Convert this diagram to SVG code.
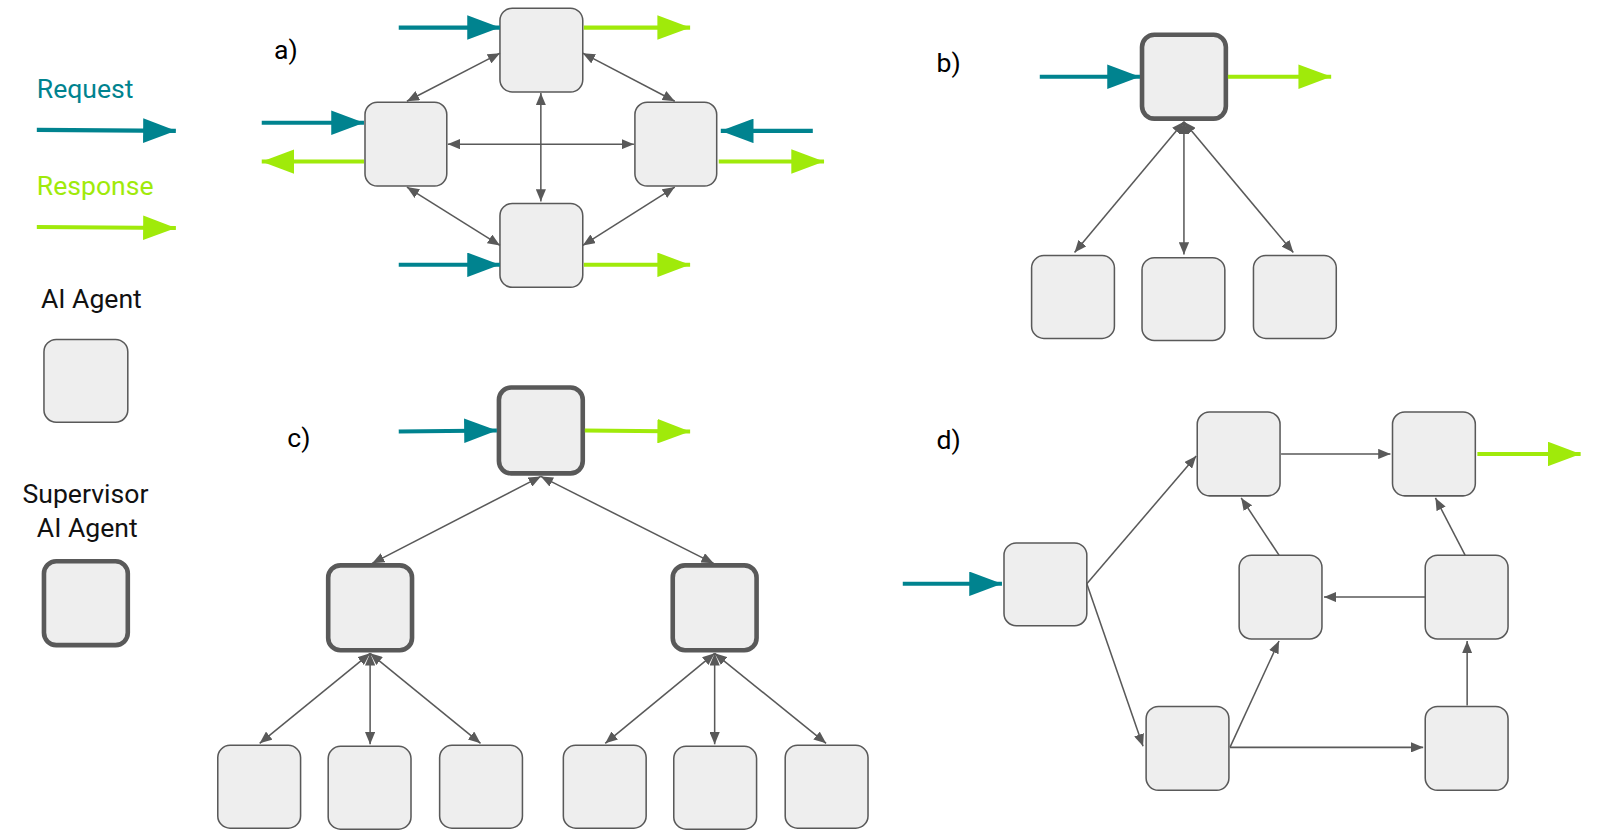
<svg xmlns="http://www.w3.org/2000/svg" width="1600" height="836" viewBox="0 0 1600 836">
<style>
.n{fill:#eeeeee;stroke:#595959;stroke-width:1.5}
.s{fill:#eeeeee;stroke:#595959;stroke-width:4.5}
.g{stroke:#595959;stroke-width:1.5;fill:none}
.b{marker-start:url(#ga);marker-end:url(#ga)}
.e{marker-end:url(#ga)}
.rq{stroke:#00838f;stroke-width:4;marker-end:url(#ta)}
.rs{stroke:#a0ea0a;stroke-width:4;marker-end:url(#la)}
text{font-family:Roboto,"Liberation Sans",sans-serif;font-size:26px}
</style>
<defs>
<marker id="ga" markerUnits="userSpaceOnUse" viewBox="0 0 12 10" refX="12" refY="5" markerWidth="12" markerHeight="10" orient="auto-start-reverse"><path d="M0,0L12,5L0,10z" fill="#595959"/></marker>
<marker id="ta" markerUnits="userSpaceOnUse" viewBox="0 0 32 24" refX="32" refY="12" markerWidth="32" markerHeight="24" orient="auto"><path d="M0,0L32,12L0,24z" fill="#00838f"/></marker>
<marker id="la" markerUnits="userSpaceOnUse" viewBox="0 0 32 24" refX="32" refY="12" markerWidth="32" markerHeight="24" orient="auto"><path d="M0,0L32,12L0,24z" fill="#a0ea0a"/></marker>
</defs>
<g transform="scale(1.0224)">
<g id="legend">
<text x="36" y="96" fill="#00838f">Request</text>
<line class="rq" x1="36" y1="127" x2="172" y2="128"/>
<text x="36" y="191" fill="#a0ea0a">Response</text>
<line class="rs" x1="36" y1="222" x2="172" y2="223"/>
<text x="40" y="301" fill="#111">AI Agent</text>
<rect id="leg-agent" class="n" x="43" y="332" width="82" height="81" rx="12"/>
<text x="22" y="492" fill="#111">Supervisor</text>
<text x="36" y="525" fill="#111">AI Agent</text>
<rect id="leg-sup" class="s" x="43" y="549" width="82" height="82" rx="12"/>
</g>
<g id="labels">
<text x="268" y="58">a)</text>
<text x="916" y="70">b)</text>
<text x="281" y="437">c)</text>
<text x="916" y="439">d)</text>
</g>
<g id="a-top"><rect class="n" x="489" y="8" width="81" height="82" rx="12"/></g>
<g id="a-left"><rect class="n" x="357" y="100" width="80" height="82" rx="12"/></g>
<g id="a-right"><rect class="n" x="621" y="100" width="80" height="82" rx="12"/></g>
<g id="a-bottom"><rect class="n" x="489" y="199" width="81" height="82" rx="12"/></g>
<g id="b-sup"><rect class="s" x="1117" y="34" width="82" height="82" rx="12"/></g>
<g id="b-c1"><rect class="n" x="1009" y="250" width="81" height="81" rx="12"/></g>
<g id="b-c2"><rect class="n" x="1117" y="252" width="81" height="81" rx="12"/></g>
<g id="b-c3"><rect class="n" x="1226" y="250" width="81" height="81" rx="12"/></g>
<g id="c-top"><rect class="s" x="488" y="379" width="82" height="84" rx="12"/></g>
<g id="c-l"><rect class="s" x="321" y="553" width="82" height="83" rx="12"/></g>
<g id="c-r"><rect class="s" x="658" y="553" width="82" height="83" rx="12"/></g>
<g id="c-l1"><rect class="n" x="213" y="729" width="81" height="81" rx="12"/></g>
<g id="c-l2"><rect class="n" x="321" y="730" width="81" height="81" rx="12"/></g>
<g id="c-l3"><rect class="n" x="430" y="729" width="81" height="81" rx="12"/></g>
<g id="c-r1"><rect class="n" x="551" y="729" width="81" height="81" rx="12"/></g>
<g id="c-r2"><rect class="n" x="659" y="730" width="81" height="81" rx="12"/></g>
<g id="c-r3"><rect class="n" x="768" y="729" width="81" height="81" rx="12"/></g>
<g id="d-a"><rect class="n" x="982" y="531" width="81" height="81" rx="12"/></g>
<g id="d-b"><rect class="n" x="1171" y="403" width="81" height="82" rx="12"/></g>
<g id="d-c"><rect class="n" x="1362" y="403" width="81" height="82" rx="12"/></g>
<g id="d-d"><rect class="n" x="1212" y="543" width="81" height="82" rx="12"/></g>
<g id="d-e"><rect class="n" x="1394" y="543" width="81" height="82" rx="12"/></g>
<g id="d-f"><rect class="n" x="1121" y="691" width="81" height="82" rx="12"/></g>
<g id="d-g"><rect class="n" x="1394" y="691" width="81" height="82" rx="12"/></g>
<g id="connectors">
<line class="rq" x1="390" y1="27" x2="489" y2="27"/>
<line class="rs" x1="571" y1="27" x2="675" y2="27"/>
<line class="rq" x1="256" y1="120" x2="356" y2="120"/>
<line class="rs" x1="356" y1="158" x2="256" y2="158"/>
<line class="rq" x1="795" y1="128" x2="705" y2="128"/>
<line class="rs" x1="703" y1="158" x2="806" y2="158"/>
<line class="rq" x1="390" y1="259" x2="489" y2="259"/>
<line class="rs" x1="571" y1="259" x2="675" y2="259"/>
<line class="g b" x1="489" y1="52" x2="398" y2="99"/>
<line class="g b" x1="570" y1="52" x2="660" y2="99"/>
<line class="g b" x1="438" y1="141" x2="620" y2="141"/>
<line class="g b" x1="529" y1="91" x2="529" y2="197"/>
<line class="g b" x1="398" y1="183" x2="489" y2="240"/>
<line class="g b" x1="660" y1="183" x2="570" y2="240"/>
<line class="rq" x1="1017" y1="75" x2="1115" y2="75"/>
<line class="rs" x1="1201" y1="75" x2="1302" y2="75"/>
<line class="g b" x1="1158" y1="119" x2="1051" y2="247"/>
<line class="g b" x1="1158" y1="119" x2="1158" y2="249"/>
<line class="g b" x1="1158" y1="119" x2="1265" y2="247"/>
<line class="rq" x1="390" y1="422" x2="486" y2="421"/>
<line class="rs" x1="572" y1="421" x2="675" y2="422"/>
<line class="g b" x1="529" y1="466" x2="364" y2="551"/>
<line class="g b" x1="529" y1="466" x2="698" y2="551"/>
<line class="g b" x1="362" y1="639" x2="254" y2="727"/>
<line class="g b" x1="362" y1="639" x2="362" y2="728"/>
<line class="g b" x1="362" y1="639" x2="470" y2="727"/>
<line class="g b" x1="699" y1="639" x2="592" y2="727"/>
<line class="g b" x1="699" y1="639" x2="699" y2="728"/>
<line class="g b" x1="699" y1="639" x2="808" y2="727"/>
<line class="rq" x1="883" y1="571" x2="980" y2="571"/>
<line class="rs" x1="1445" y1="444" x2="1546" y2="444"/>
<line class="g e" x1="1063" y1="571" x2="1170" y2="446"/>
<line class="g e" x1="1063" y1="571" x2="1118" y2="730"/>
<line class="g e" x1="1253" y1="444" x2="1360" y2="444"/>
<line class="g e" x1="1251" y1="543" x2="1214" y2="487"/>
<line class="g e" x1="1394" y1="584" x2="1295" y2="584"/>
<line class="g e" x1="1433" y1="543" x2="1404" y2="487"/>
<line class="g e" x1="1203" y1="731" x2="1251" y2="627"/>
<line class="g e" x1="1203" y1="731" x2="1392" y2="731"/>
<line class="g e" x1="1435" y1="690" x2="1435" y2="627"/>
</g>
</g>
</svg>
